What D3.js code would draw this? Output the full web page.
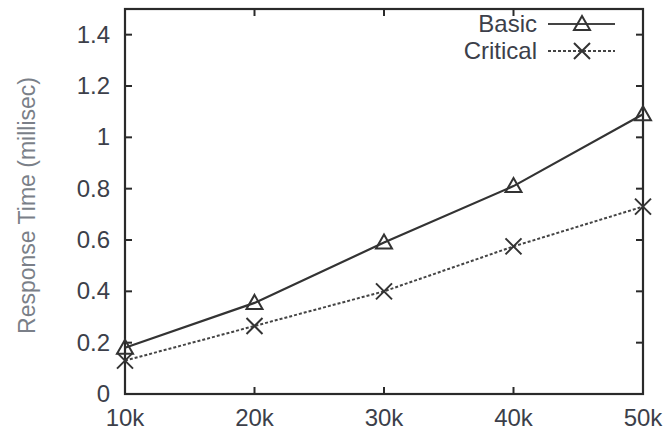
<!DOCTYPE html>
<html>
<head>
<meta charset="utf-8">
<script src="https://cdn.jsdelivr.net/npm/d3@7"></script>
<style>
  body { margin: 0; background: #fff; }
  svg { display: block; font-family: "Liberation Sans", Arial, sans-serif; }
</style>
</head>
<body>
<svg class="chart" width="670" height="431"></svg>
<script>
const sizes = [10, 20, 30, 40, 50];
const xTickLabels = ["10k", "20k", "30k", "40k", "50k"];
const yTicks = [0, 0.2, 0.4, 0.6, 0.8, 1, 1.2, 1.4];
const basic = [0.18, 0.355, 0.59, 0.81, 1.09];
const critical = [0.13, 0.265, 0.40, 0.575, 0.73];
const seriesNames = ["Basic", "Critical"];

let width = 670;
let height = 431;
let margin = ({top: 9, right: 27, bottom: 37, left: 125});

let svg = d3.select(".chart");

let x = d3.scaleLinear()
  .domain([10, 50])
  .range([margin.left, width - margin.right]);

let y = d3.scaleLinear()
  .domain([0, 1.5])
  .range([height - margin.bottom, margin.top]);

let ink = "#2a2a2a";

// frame + mirrored ticks
let tickLen = 7;
let gTicks = svg.append("g").attr("stroke", ink).attr("stroke-width", 2);
yTicks.forEach(t => {
  gTicks.append("line").attr("x1", x(10)).attr("x2", x(10) + tickLen).attr("y1", y(t)).attr("y2", y(t));
  gTicks.append("line").attr("x1", x(50)).attr("x2", x(50) - tickLen).attr("y1", y(t)).attr("y2", y(t));
});
sizes.forEach(s => {
  gTicks.append("line").attr("x1", x(s)).attr("x2", x(s)).attr("y1", y(0)).attr("y2", y(0) - tickLen);
  gTicks.append("line").attr("x1", x(s)).attr("x2", x(s)).attr("y1", y(1.5)).attr("y2", y(1.5) + tickLen);
});

svg.append("rect")
  .attr("x", x(10)).attr("y", y(1.5))
  .attr("width", x(50) - x(10)).attr("height", y(0) - y(1.5))
  .attr("fill", "none").attr("stroke", ink).attr("stroke-width", 2.2);

// tick labels
svg.append("g")
  .attr("font-size", 24).attr("fill", "#3c3f4a").attr("text-anchor", "end")
  .selectAll("text").data(yTicks).join("text")
  .attr("x", x(10) - 15).attr("y", d => y(d) + 8)
  .text(d => d);

svg.append("g")
  .attr("font-size", 24).attr("fill", "#3c3f4a").attr("text-anchor", "middle")
  .selectAll("text").data(sizes).join("text")
  .attr("x", d => x(d)).attr("y", y(0) + 32)
  .text((d, i) => xTickLabels[i]);

svg.append("text")
  .attr("transform", `translate(35,${(y(0) + y(1.5)) / 2 + 4}) rotate(-90)`)
  .attr("text-anchor", "middle").attr("font-size", 23).attr("fill", "#7a7f88")
  .text("Response Time (millisec)");

// series
let line = d3.line().x((d, i) => x(sizes[i])).y(d => y(d));

function triangle(g, cx, cy) {
  g.append("path")
    .attr("d", `M${cx},${cy - 8}L${cx + 8},${cy + 6}L${cx - 8},${cy + 6}Z`)
    .attr("fill", "none").attr("stroke", "#333").attr("stroke-width", 2);
}
function cross(g, cx, cy) {
  g.append("path")
    .attr("d", `M${cx - 8},${cy - 8}L${cx + 8},${cy + 8}M${cx - 8},${cy + 8}L${cx + 8},${cy - 8}`)
    .attr("fill", "none").attr("stroke", "#333").attr("stroke-width", 2);
}

svg.append("path").datum(basic)
  .attr("d", line).attr("fill", "none").attr("stroke", "#333").attr("stroke-width", 2.2);
svg.append("path").datum(critical)
  .attr("d", line).attr("fill", "none").attr("stroke", "#444").attr("stroke-width", 2)
  .attr("stroke-dasharray", "3,2");

let gm = svg.append("g");
basic.forEach((v, i) => triangle(gm, x(sizes[i]), y(v)));
critical.forEach((v, i) => cross(gm, x(sizes[i]), y(v)));

// legend
let legend = svg.append("g");
let lx0 = 548, lx1 = 615, lmid = 582;
[24, 51].forEach((ly, i) => {
  legend.append("text")
    .attr("x", 537).attr("y", ly + 8).attr("text-anchor", "end")
    .attr("font-size", 24).attr("fill", "#3c3f4a")
    .text(seriesNames[i]);
  let l = legend.append("line")
    .attr("x1", lx0).attr("x2", lx1).attr("y1", ly).attr("y2", ly)
    .attr("stroke", "#444").attr("stroke-width", i ? 2 : 2.2);
  if (i) l.attr("stroke-dasharray", "3,2");
  if (i) cross(legend, lmid, ly); else triangle(legend, lmid, ly);
});
</script>
</body>
</html>
